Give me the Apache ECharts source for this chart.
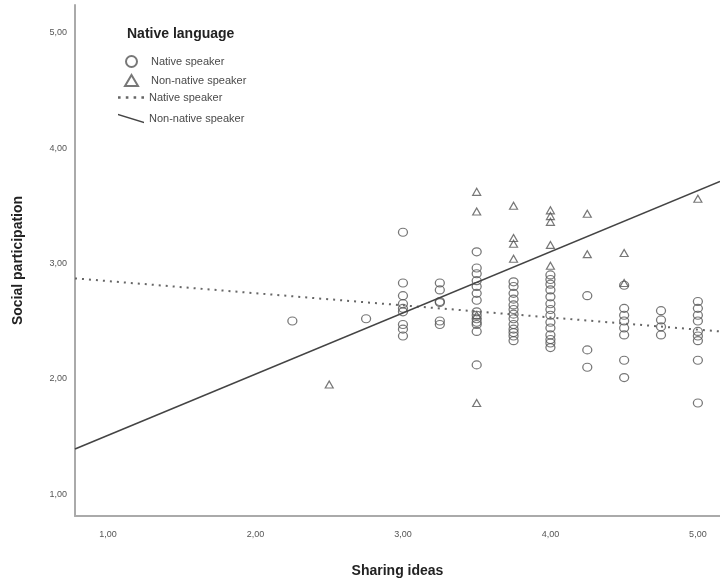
<!DOCTYPE html>
<html>
<head>
<meta charset="utf-8">
<script src="https://cdn.jsdelivr.net/npm/echarts@6/dist/echarts.min.js"></script>
<style>
  html, body { margin: 0; padding: 0; background: #fff; }
  #chart { width: 720px; height: 583px; }
</style>
</head>
<body>
<div id="chart"></div>
<script>
// tick positions and labels (comma decimals, as in the source)
const xTicks = [1, 2, 3, 4, 5]
const xTickLabels = ['1,00', '2,00', '3,00', '4,00', '5,00']
const yTicks = [1, 2, 3, 4, 5]
const yTickLabels = ['1,00', '2,00', '3,00', '4,00', '5,00']

// native speakers: [sharing ideas, social participation]
const nativePoints = [
  [2.25, 2.50],
  [2.75, 2.52],
  [3.0, 3.27], [3.0, 2.83], [3.0, 2.72], [3.0, 2.65], [3.0, 2.61], [3.0, 2.58], [3.0, 2.47], [3.0, 2.43], [3.0, 2.37],
  [3.25, 2.83], [3.25, 2.77], [3.25, 2.67], [3.25, 2.66], [3.25, 2.50], [3.25, 2.47],
  [3.5, 3.10], [3.5, 2.96], [3.5, 2.91], [3.5, 2.85], [3.5, 2.80], [3.5, 2.74], [3.5, 2.68], [3.5, 2.58],
  [3.5, 2.55], [3.5, 2.52], [3.5, 2.49], [3.5, 2.47], [3.5, 2.41], [3.5, 2.12],
  [3.75, 2.84], [3.75, 2.80], [3.75, 2.74], [3.75, 2.69], [3.75, 2.64], [3.75, 2.60], [3.75, 2.56],
  [3.75, 2.52], [3.75, 2.47], [3.75, 2.43], [3.75, 2.40], [3.75, 2.37], [3.75, 2.33],
  [4.0, 2.90], [4.0, 2.86], [4.0, 2.82], [4.0, 2.77], [4.0, 2.71], [4.0, 2.65], [4.0, 2.60],
  [4.0, 2.55], [4.0, 2.49], [4.0, 2.44], [4.0, 2.38], [4.0, 2.34], [4.0, 2.31], [4.0, 2.27],
  [4.25, 2.72], [4.25, 2.25], [4.25, 2.10],
  [4.5, 2.81], [4.5, 2.61], [4.5, 2.55], [4.5, 2.50], [4.5, 2.44], [4.5, 2.38], [4.5, 2.16], [4.5, 2.01],
  [4.75, 2.59], [4.75, 2.51], [4.75, 2.45], [4.75, 2.38],
  [5.0, 2.67], [5.0, 2.61], [5.0, 2.55], [5.0, 2.50], [5.0, 2.41], [5.0, 2.37], [5.0, 2.33], [5.0, 2.16], [5.0, 1.79]
]

// non-native speakers
const nonNativePoints = [
  [2.5, 1.95],
  [3.5, 3.62], [3.5, 3.45], [3.5, 2.55], [3.5, 1.79],
  [3.75, 3.50], [3.75, 3.22], [3.75, 3.17], [3.75, 3.04],
  [4.0, 3.46], [4.0, 3.41], [4.0, 3.36], [4.0, 3.16], [4.0, 2.98],
  [4.25, 3.43], [4.25, 3.08],
  [4.5, 3.09], [4.5, 2.83],
  [5.0, 3.56]
]

// fit lines, read at the plot edges
const nativeFit = [[0.776, 2.87], [5.15, 2.41]]
const nonNativeFit = [[0.776, 1.39], [5.15, 3.71]]

const font = 'Liberation Sans'
const chart = echarts.init(document.getElementById('chart'))

const hollow = {
  color: 'rgba(0,0,0,0)',
  borderColor: '#555',
  borderWidth: 1.2
}

// legend icons for the two fit lines
const dottedIcon = 'path://M0,4h2v2h-2z M6,4h2v2h-2z M12,4h2v2h-2z M18,4h2v2h-2z'
const slantIcon = 'path://M0,0 L26,8 L26,9.6 L0,1.6z'

const legendText = { fontFamily: font, fontSize: 11, color: '#4a4a4a' }

const option = {
  animation: false,
  backgroundColor: '#fff',
  textStyle: { fontFamily: font },
  title: {
    text: 'Native language',
    left: 122,
    top: 22,
    textStyle: { fontFamily: font, fontSize: 14, fontWeight: 'bold', color: '#222' }
  },
  legend: [
    {
      orient: 'vertical',
      left: 119,
      top: 50,
      itemWidth: 13,
      itemHeight: 11,
      itemGap: 6,
      textStyle: { ...legendText, padding: [0, 0, 0, 8] },
      data: [
        { name: 'Native speaker', icon: 'circle' },
        { name: 'Non-native speaker', icon: 'triangle' }
      ]
    },
    {
      orient: 'vertical',
      left: 113,
      top: 87,
      itemWidth: 26,
      itemHeight: 10,
      itemGap: 10,
      textStyle: legendText,
      formatter: name => name.trim(),
      data: [
        { name: 'Native speaker ', icon: dottedIcon, itemStyle: { color: '#666', borderWidth: 0 } },
        { name: 'Non-native speaker ', icon: slantIcon, itemStyle: { color: '#444', borderWidth: 0 } }
      ]
    }
  ],
  grid: { left: 75, top: 5, right: 0, bottom: 63 },
  xAxis: {
    type: 'value',
    min: 0.776,
    max: 5.15,
    name: 'Sharing ideas',
    nameLocation: 'middle',
    nameGap: 48,
    nameTextStyle: { fontFamily: font, fontSize: 14, fontWeight: 'bold', color: '#222' },
    axisLine: { lineStyle: { color: '#aaa', width: 2 } },
    axisTick: { show: false },
    splitLine: { show: false },
    axisLabel: {
      customValues: xTicks,
      formatter: v => xTickLabels[xTicks.indexOf(v)],
      fontSize: 9,
      color: '#555',
      margin: 14
    }
  },
  yAxis: {
    type: 'value',
    min: 0.81,
    max: 5.24,
    name: 'Social participation',
    nameLocation: 'middle',
    nameGap: 50,
    nameTextStyle: { fontFamily: font, fontSize: 14, fontWeight: 'bold', color: '#222' },
    axisLine: { show: true, lineStyle: { color: '#aaa', width: 2 } },
    axisTick: { show: false },
    splitLine: { show: false },
    axisLabel: {
      customValues: yTicks,
      formatter: v => yTickLabels[yTicks.indexOf(v)],
      fontSize: 9,
      color: '#555',
      margin: 8
    }
  },
  series: [
    {
      name: 'Native speaker',
      type: 'scatter',
      symbol: 'circle',
      symbolSize: [9, 8],
      itemStyle: hollow,
      data: nativePoints
    },
    {
      name: 'Non-native speaker',
      type: 'scatter',
      symbol: 'triangle',
      symbolSize: [8, 7],
      itemStyle: hollow,
      data: nonNativePoints
    },
    {
      name: 'Native speaker ',
      type: 'line',
      showSymbol: false,
      symbol: 'none',
      lineStyle: { color: '#666', width: 2, type: [2, 5] },
      itemStyle: { color: '#666' },
      data: nativeFit
    },
    {
      name: 'Non-native speaker ',
      type: 'line',
      showSymbol: false,
      symbol: 'none',
      lineStyle: { color: '#444', width: 1.6 },
      itemStyle: { color: '#444' },
      data: nonNativeFit
    }
  ]
}

chart.setOption(option)
window.addEventListener('resize', () => chart.resize())
</script>
</body>
</html>
